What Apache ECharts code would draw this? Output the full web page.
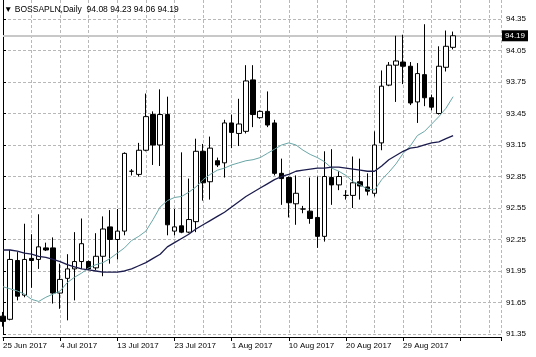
<!DOCTYPE html>
<html><head><meta charset="utf-8">
<script src="https://cdn.jsdelivr.net/npm/echarts@6/dist/echarts.min.js"></script>
<style>html,body{margin:0;padding:0;background:#fff}#c{width:536px;height:357px}</style>
</head><body><div id="c"></div>
<script>
const symbolName = 'BOSSAPLN,Daily';
const dates = ['25 Jun 2017','26 Jun 2017','27 Jun 2017','28 Jun 2017','29 Jun 2017','30 Jun 2017','2 Jul 2017','3 Jul 2017',
 '4 Jul 2017','5 Jul 2017','6 Jul 2017','7 Jul 2017','9 Jul 2017','10 Jul 2017','11 Jul 2017','12 Jul 2017',
 '13 Jul 2017','14 Jul 2017','16 Jul 2017','17 Jul 2017','18 Jul 2017','19 Jul 2017','20 Jul 2017','21 Jul 2017',
 '23 Jul 2017','24 Jul 2017','25 Jul 2017','26 Jul 2017','27 Jul 2017','28 Jul 2017','30 Jul 2017','31 Jul 2017',
 '1 Aug 2017','2 Aug 2017','3 Aug 2017','4 Aug 2017','6 Aug 2017','7 Aug 2017','8 Aug 2017','9 Aug 2017',
 '10 Aug 2017','11 Aug 2017','13 Aug 2017','14 Aug 2017','15 Aug 2017','16 Aug 2017','17 Aug 2017','18 Aug 2017',
 '20 Aug 2017','21 Aug 2017','22 Aug 2017','23 Aug 2017','24 Aug 2017','25 Aug 2017','27 Aug 2017','28 Aug 2017',
 '29 Aug 2017','30 Aug 2017','31 Aug 2017','1 Sep 2017','3 Sep 2017','4 Sep 2017','5 Sep 2017','6 Sep 2017'];
const opens = [91.52,91.49,92.05,91.72,92.07,92.06,92.17,92.17,91.74,91.88,
 91.97,92.04,92.04,91.98,92.09,92.37,92.25,92.33,92.90,92.87,
 93.10,93.44,93.15,93.44,92.33,92.38,92.32,92.42,93.09,92.80,
 93.00,92.98,93.36,93.26,93.28,93.77,93.41,93.47,93.36,92.88,
 92.84,92.59,92.54,92.52,92.46,92.28,92.84,92.77,92.67,92.67,
 92.80,92.75,92.69,93.17,93.72,93.91,93.94,93.90,93.56,93.82,
 93.60,93.45,93.89,94.08];
const highs = [91.56,92.15,92.13,92.40,92.30,92.49,92.22,92.27,92.02,92.11,
 92.32,92.45,92.05,92.31,92.47,92.53,92.54,93.08,92.92,93.17,
 93.64,93.47,93.68,93.61,92.54,93.08,92.83,93.21,93.16,93.23,
 93.03,93.39,93.44,93.59,93.91,93.91,93.48,93.66,93.39,93.02,
 92.85,92.86,92.57,92.84,92.85,93.09,93.11,92.90,92.72,93.04,
 93.02,92.88,93.28,93.86,93.94,94.19,94.20,93.94,93.93,94.30,
 93.63,94.09,94.24,94.23];
const lows = [91.42,91.48,91.67,91.70,91.79,91.97,92.14,91.64,91.59,91.48,
 91.67,91.97,91.96,91.96,91.90,92.02,92.06,92.29,92.86,92.85,
 93.09,92.96,92.95,92.29,92.29,92.31,92.31,92.32,92.62,92.63,
 92.94,92.84,93.12,93.14,93.26,93.32,93.40,93.32,92.86,92.58,
 92.46,92.39,92.50,92.40,92.17,92.23,92.58,92.72,92.63,92.55,
 92.63,92.67,92.66,93.10,93.71,93.56,93.73,93.53,93.36,93.52,
 93.48,93.44,93.85,94.06];
const closes = [91.47,92.06,91.71,92.06,92.05,92.18,92.15,91.74,91.87,91.97,
 92.04,92.21,91.97,92.09,92.35,92.25,92.33,93.07,92.90,93.10,
 93.42,93.15,93.44,92.39,92.37,92.32,92.44,93.09,92.79,93.12,
 92.96,93.36,93.27,93.35,93.76,93.44,93.47,93.34,92.88,92.83,
 92.60,92.69,92.54,92.45,92.28,92.85,92.77,92.85,92.67,92.79,
 92.76,92.71,93.15,93.71,93.91,93.95,93.90,93.55,93.83,93.60,
 93.51,93.90,94.09,94.19];
const maFast = [91.80,91.78,91.76,91.73,91.68,91.66,91.70,91.73,91.76,91.84,
 91.89,91.93,91.98,92.01,92.03,92.07,92.12,92.17,92.24,92.28,
 92.33,92.44,92.56,92.62,92.65,92.66,92.70,92.75,92.82,92.87,
 92.91,92.93,92.96,92.98,93.00,93.01,93.03,93.07,93.11,93.15,
 93.17,93.15,93.10,93.06,93.03,92.99,92.93,92.90,92.86,92.80,
 92.77,92.73,92.72,92.82,92.89,92.97,93.07,93.14,93.24,93.28,
 93.35,93.42,93.50,93.61];
const maSlow = [92.15,92.15,92.14,92.12,92.11,92.09,92.08,92.06,92.04,92.01,
 91.99,91.97,91.96,91.95,91.94,91.94,91.94,91.95,91.97,92.00,
 92.03,92.07,92.11,92.18,92.22,92.26,92.30,92.35,92.39,92.43,
 92.47,92.51,92.56,92.61,92.66,92.70,92.74,92.78,92.82,92.85,
 92.87,92.90,92.91,92.92,92.93,92.93,92.94,92.94,92.93,92.92,
 92.91,92.90,92.90,92.95,93.01,93.05,93.09,93.12,93.13,93.15,
 93.17,93.18,93.21,93.24];

const FONT = '"Liberation Sans", Arial, "DejaVu Sans", sans-serif';
const n = dates.length;
const xMax = 69.7;
const yMin = 91.35, yStep = 0.3, yMax = 94.626;
const gridCol = '#b8b8b8';
const last = n - 1;
const titleText = '\u25BC ' + symbolName + '  ' + [opens[last], highs[last], lows[last], closes[last]].map(v => v.toFixed(2)).join(' ');

const chart = echarts.init(document.getElementById('c'), null, {renderer: 'canvas'});
chart.setOption({
  animation: false,
  backgroundColor: '#ffffff',
  title: {
    text: titleText, left: 4, top: 5, padding: 0,
    textStyle: {fontSize: 8.5, fontWeight: 'normal', color: '#000', fontFamily: FONT}
  },
  grid: {left: 3, right: 35, top: -10, bottom: 23, containLabel: false, outerBoundsMode: 'none'},
  xAxis: [
    {type: 'value', min: 0, max: xMax, interval: 4, position: 'bottom', offset: 3,
     axisLine: {show: true, lineStyle: {color: '#000', width: 1}},
     axisTick: {show: false}, axisLabel: {show: false},
     splitLine: {show: true, lineStyle: {color: gridCol, type: [3, 2], width: 1}}},
    {type: 'value', min: 0, max: xMax, interval: 8, position: 'bottom', offset: 3,
     axisLine: {show: false},
     axisTick: {show: true, length: 4, lineStyle: {color: '#000'}},
     axisLabel: {show: true, margin: 5, align: 'left', fontSize: 8, color: '#000', fontFamily: FONT,
       formatter: function (v) {
         const r = Math.round(v);
         if (Math.abs(v - r) < 1e-6 && r % 8 === 0 && r < n) return dates[r];
         return '';
       }},
     splitLine: {show: false}}
  ],
  yAxis: [
    {type: 'value', position: 'right', min: yMin, max: yMax, interval: yStep, scale: true,
     axisLine: {show: true, lineStyle: {color: '#000', width: 1}},
     axisTick: {show: true, length: 3, lineStyle: {color: '#000'}},
     axisLabel: {margin: 5, fontSize: 8, color: '#000', fontFamily: FONT,
       formatter: function (v) {
         const k = (v - yMin) / yStep;
         if (Math.abs(k - Math.round(k)) < 1e-6 && v < 94.4) return v.toFixed(2);
         return '';
       }},
     splitLine: {show: true, lineStyle: {color: gridCol, type: [3, 2], width: 1}}},
    {type: 'value', position: 'left', min: yMin, max: yMax, scale: true,
     axisLine: {show: true, lineStyle: {color: '#000', width: 1}},
     axisTick: {show: false}, axisLabel: {show: false}, splitLine: {show: false}}
  ],
  series: [
    {type: 'candlestick', xAxisIndex: 0, yAxisIndex: 0, barWidth: 5, clip: true, z: 2,
     data: dates.map((d, i) => [i, opens[i], closes[i], lows[i], highs[i]]),
     itemStyle: {color: '#ffffff', color0: '#000000', borderColor: '#000000', borderColor0: '#000000', borderWidth: 1},
     markLine: {
       silent: true, symbol: ['none', 'none'], animation: false, z: 1,
       data: [{yAxis: closes[last]}],
       lineStyle: {color: '#c8c8c8', width: 2, type: 'solid'},
       label: {show: true, position: 'end', distance: 1, formatter: closes[last].toFixed(2),
               color: '#fff', backgroundColor: '#000', padding: [2, 3, 1, 3], fontSize: 8, fontFamily: FONT}
     }},
    {type: 'line', xAxisIndex: 0, yAxisIndex: 0, symbol: 'none', z: 3, clip: true,
     data: maFast.map((v, i) => [i, v]),
     lineStyle: {color: '#6aa6a6', width: 1}},
    {type: 'line', xAxisIndex: 0, yAxisIndex: 0, symbol: 'none', z: 4, clip: true,
     data: maSlow.map((v, i) => [i, v]),
     lineStyle: {color: '#1c1c4e', width: 1.3}}
  ]
});
</script>
</body></html>
